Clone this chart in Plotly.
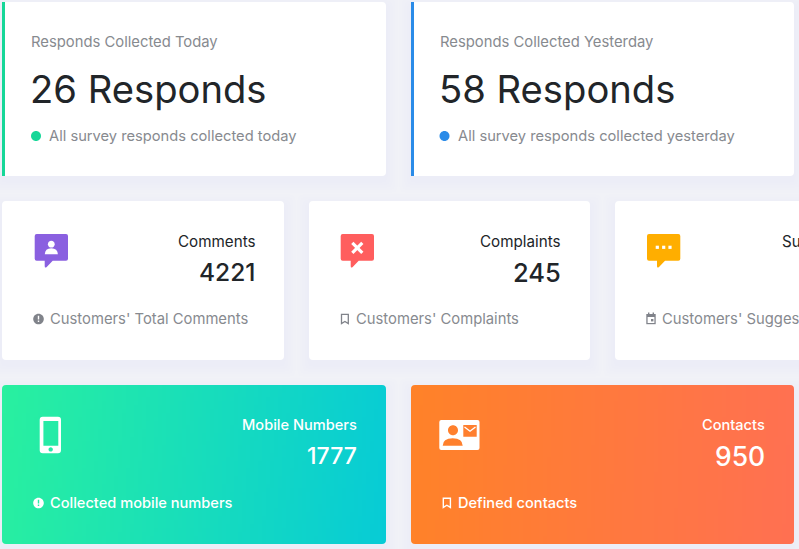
import numpy as np
import plotly.graph_objects as go

# card texts and values
top_titles = ["Responds Collected Today", "Responds Collected Yesterday"]
top_values = [26, 58]
top_unit = "Responds"
top_subs = ["All survey responds collected today", "All survey responds collected yesterday"]

mid_labels = ["Comments", "Complaints", "Suggestions"]
mid_values = [4221, 245]
mid_subs = ["Customers' Total Comments", "Customers' Complaints", "Customers' Suggestions"]

low_labels = ["Mobile Numbers", "Contacts"]
low_values = [1777, 950]
low_subs = ["Collected mobile numbers", "Defined contacts"]

BG = "#f1f2f7"
DARK = "#212529"
GREY = "#878a8f"
FONT = "Inter"
SHADOW = 0.004

fig = go.Figure()
shapes = []


def rrect(x0, y0, x1, y1, r=4):
    return (f"M{x0+r},{y0} L{x1-r},{y0} Q{x1},{y0} {x1},{y0+r} L{x1},{y1-r} Q{x1},{y1} {x1-r},{y1} "
            f"L{x0+r},{y1} Q{x0},{y1} {x0},{y1-r} L{x0},{y0+r} Q{x0},{y0} {x0+r},{y0} Z")


def circle(cx, cy, r):
    k = r * 0.5523
    return (f"M{cx-r},{cy} C{cx-r},{cy-k} {cx-k},{cy-r} {cx},{cy-r} C{cx+k},{cy-r} {cx+r},{cy-k} {cx+r},{cy} "
            f"C{cx+r},{cy+k} {cx+k},{cy+r} {cx},{cy+r} C{cx-k},{cy+r} {cx-r},{cy+k} {cx-r},{cy} Z")


def hole_circle(cx, cy, r):
    # opposite winding so it cuts through the shape it is joined to
    k = r * 0.5523
    return (f"M{cx-r},{cy} C{cx-r},{cy+k} {cx-k},{cy+r} {cx},{cy+r} C{cx+k},{cy+r} {cx+r},{cy+k} {cx+r},{cy} "
            f"C{cx+r},{cy-k} {cx+k},{cy-r} {cx},{cy-r} C{cx-k},{cy-r} {cx-r},{cy-k} {cx-r},{cy} Z")


def hole_rect(x0, y0, x1, y1):
    return f"M{x0},{y0} L{x0},{y1} L{x1},{y1} L{x1},{y0} Z"


def add(path, fill, layer="above", line=None, width=0):
    shapes.append(dict(type="path", path=path, fillcolor=fill, layer=layer,
                       line=dict(color=line or fill, width=width)))


def bubble(x, y, fill):
    # chat bubble 33 wide, tail drops to y+33.5
    r = 2
    add(f"M{x+r},{y} L{x+33.3-r},{y} Q{x+33.3},{y} {x+33.3},{y+r} L{x+33.3},{y+26.7-r} "
        f"Q{x+33.3},{y+26.7} {x+33.3-r},{y+26.7} L{x+18},{y+26.7} L{x+12},{y+33} Q{x+10},{y+34.5} {x+10},{y+32} "
        f"L{x+10},{y+26.7} L{x+r},{y+26.7} Q{x},{y+26.7} {x},{y+26.7-r} L{x},{y+r} Q{x},{y} {x+r},{y} Z", fill)


def shadow(x0, y0, x1, y1):
    for i in range(5):
        g = 12 - i * 2.5
        shapes.append(dict(type="path", path=rrect(x0 - g, y0 - g + 5, x1 + g, y1 + g + 5, 6),
                           fillcolor=f"rgba(90,100,150,{SHADOW})", line=dict(width=0), layer="below"))


def card(x0, y0, x1, y1):
    shadow(x0, y0, x1, y1)
    shapes.append(dict(type="path", path=rrect(x0, y0, x1, y1), fillcolor="#ffffff",
                       line=dict(width=0), layer="below"))


def text(x, y, s, size, color, anchor="left", weight=400):
    fig.add_annotation(x=x, y=y, text=s, showarrow=False, xanchor=anchor, yanchor="middle",
                       borderpad=0, font=dict(family=FONT, size=size, color=color, weight=weight))


def gradient(x0, y0, x1, y1, colors, tilt):
    # background gradient of the coloured cards, painted as a smooth heatmap
    xs = np.linspace(x0, x1, 97)
    ys = np.linspace(y0, y1, 41)
    xc = (xs[:-1] + xs[1:]) / 2
    yc = (ys[:-1] + ys[1:]) / 2
    z = (xc[None, :] - x0) / (x1 - x0) * (1 - tilt) + (yc[:, None] - y0) / (y1 - y0) * tilt
    fig.add_trace(go.Heatmap(x=xs, y=ys, z=z, zmin=0, zmax=1, colorscale=[[0, colors[0]], [1, colors[1]]],
                             showscale=False, hoverinfo="skip"))
    r = 4
    for cx, cy, sx, sy in [(x0, y0, 1, 1), (x1, y0, -1, 1), (x1, y1, -1, -1), (x0, y1, 1, -1)]:
        add(f"M{cx},{cy} L{cx+sx*r},{cy} Q{cx},{cy} {cx},{cy+sy*r} Z", BG)


# top row
card(2, 2, 386, 176)
card(411, 2, 794, 176)
shapes.append(dict(type="rect", x0=2, x1=5, y0=2, y1=176, fillcolor="#16d798", line=dict(width=0), layer="below"))
shapes.append(dict(type="rect", x0=411, x1=414, y0=2, y1=176, fillcolor="#2a8be8", line=dict(width=0), layer="below"))

for i, x in enumerate([31, 440]):
    text(x - 1, 42, top_titles[i], 14.8, GREY)
    text(x - 2, 89, f"{top_values[i]} {top_unit}", 38.2, DARK)
    text(x + 17, 135.5, top_subs[i], 14.7, GREY)
add(circle(36, 136, 5), "#16d798")
add(circle(444.5, 136, 5), "#2a8be8")

# middle row
card(2, 201, 284, 360)
card(309, 201, 590, 360)
card(615, 201, 830, 360)
mid_sizes = [24.5, 25.5]
for i, x in enumerate([255.5, 561.5]):
    text(x, 241, mid_labels[i], 15.2, DARK, "right")
    text(x + 0.5, 272, str(mid_values[i]), mid_sizes[i], DARK, "right", 500)
text(781, 241, mid_labels[2], 15.2, DARK)
for i, x in enumerate([48.5, 354.5, 661]):
    text(x, 319, mid_subs[i], 14.8, GREY)

# purple bubble with person
bubble(34.7, 234, "#8a60e0")
add(circle(51.3, 244.2, 3.4), "#ffffff")
add("M44.8,254.3 Q45,248.5 51.3,248.3 Q57.6,248.5 57.9,254.3 Z", "#ffffff")
# red bubble with cross
bubble(340.7, 234, "#ff5e5e")
shapes.append(dict(type="line", x0=352.3, y0=242.8, x1=362.3, y1=252.8, line=dict(color="#ffffff", width=3.2)))
shapes.append(dict(type="line", x0=362.3, y0=242.8, x1=352.3, y1=252.8, line=dict(color="#ffffff", width=3.2)))
# yellow bubble with dots
bubble(647, 234, "#ffae00")
for cx in [657.3, 663.7, 670]:
    add(f"M{cx-1.6},{245.7} L{cx+1.6},{245.7} L{cx+1.6},{248.9} L{cx-1.6},{248.9} Z", "#ffffff")

# small grey icons of the middle row
add(circle(38.5, 319, 5.3), "#80838a")
add("M37.8,315.8 L39.2,315.8 L39.2,319.6 L37.8,319.6 Z M37.8,320.6 L39.2,320.6 L39.2,322 L37.8,322 Z", "#ffffff")
shapes.append(dict(type="path", path="M341.5,314.4 L348.3,314.4 L348.3,323.6 L344.9,321.4 L341.5,323.6 Z",
                   line=dict(color="#80838a", width=1.3), fillcolor="rgba(0,0,0,0)"))
add("M646.3,314 L655.7,314 L655.7,324.2 L646.3,324.2 Z", "#80838a")
add("M647.6,317 L654.4,317 L654.4,323 L647.6,323 Z", "#ffffff")
add("M648,312.4 L649.4,312.4 L649.4,314.5 L648,314.5 Z M652.6,312.4 L654,312.4 L654,314.5 L652.6,314.5 Z", "#80838a")
add("M651,319 L653.4,319 L653.4,321.4 L651,321.4 Z", "#80838a")

# bottom row
shadow(2, 385, 386, 544)
shadow(411, 385, 794, 544)
gradient(2, 385, 386, 544, ["#29f09f", "#07cbd6"], 0.05)
gradient(411, 385, 794, 544, ["#ff8228", "#ff7052"], 0.02)

low_sizes = [23, 26.5]
for i, x in enumerate([358, 766]):
    text(x, 425, low_labels[i], 14.6, "#ffffff", "right", 500)
    text(x, 456, str(low_values[i]), low_sizes[i], "#ffffff", "right", 500)
text(48.5, 503, low_subs[0], 14.6, "#ffffff", weight=500)
text(457, 503, low_subs[1], 14.6, "#ffffff", weight=500)

# phone
add(rrect(39.7, 416.7, 61, 453.3, 3) + " " + hole_rect(43.4, 421, 58.3, 445.7) + " " + hole_circle(50.7, 449.4, 2.2), "#ffffff")
# contact card
add(rrect(439.3, 420, 479.5, 450, 2) + " " + hole_circle(453, 430.3, 5)
    + " M442.7,445.7 L462.7,445.7 Q462.7,438.5 452.7,438.3 Q442.7,438.5 442.7,445.7 Z"
    + " " + hole_rect(463.3, 425, 476.7, 436.7), "#ffffff")
shapes.append(dict(type="path", path="M464.5,427 L470,431.2 L475.5,427",
                   line=dict(color="#ffffff", width=1.4), fillcolor="rgba(0,0,0,0)"))
# alert and bookmark
add(circle(38.5, 503, 5.3) + " M37.8,499.8 L37.8,503.6 L39.2,503.6 L39.2,499.8 Z M37.8,504.6 L37.8,506 L39.2,506 L39.2,504.6 Z", "#ffffff")
shapes.append(dict(type="path", path="M443.3,498.3 L450.4,498.3 L450.4,507.4 L446.85,505.2 L443.3,507.4 Z",
                   line=dict(color="#ffffff", width=1.4), fillcolor="rgba(0,0,0,0)"))

fig.update_layout(width=799, height=549, margin=dict(l=0, r=0, t=0, b=0, pad=0), showlegend=False,
                  paper_bgcolor=BG, plot_bgcolor=BG, shapes=shapes,
                  xaxis=dict(range=[0, 799], visible=False, fixedrange=True),
                  yaxis=dict(range=[549, 0], visible=False, fixedrange=True))

# the page has an 8px default margin, drop it so the figure fills the window
fig.write_html("out.html", config=dict(displayModeBar=False),
               post_script="document.body.style.margin='0';document.body.style.overflow='hidden';")
